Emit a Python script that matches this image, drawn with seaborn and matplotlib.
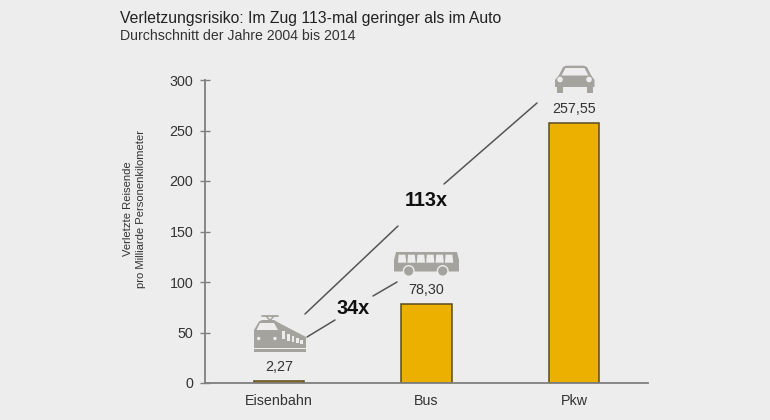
import matplotlib
matplotlib.use("Agg")
import matplotlib.pyplot as plt
import pandas as pd
import seaborn as sns
from matplotlib.patches import Circle, Polygon, Rectangle

categories = ["Eisenbahn", "Bus", "Pkw"]
values = [2.27, 78.30, 257.55]
value_labels = ["2,27", "78,30", "257,55"]
y_ticks = [0, 50, 100, 150, 200, 250, 300]

BG = "#ededed"
BAR = "#ecb100"
ICON = "#a5a39d"
TEXT = "#333333"
AXIS = "#7f7f7f"

W, H = 770, 420


def draw_car(ov):
    ov.add_patch(Polygon([(555, 87), (555, 80), (559, 75), (563, 67), (566, 65.7), (584, 65.7), (587, 67),
                          (591, 75), (594.5, 80), (594.5, 87)], color=ICON, lw=0))
    ov.add_patch(Polygon([(561.5, 75.5), (565.5, 68), (584.5, 68), (588.5, 75.5)], color=BG, lw=0))
    ov.add_patch(Rectangle((557, 87), 6, 5.7, color=ICON, lw=0))
    ov.add_patch(Rectangle((586.5, 87), 6, 5.7, color=ICON, lw=0))
    ov.add_patch(Circle((560, 79.5), 2.8, color=BG, lw=0))
    ov.add_patch(Circle((589, 79.5), 2.8, color=BG, lw=0))


def draw_bus(ov):
    ov.add_patch(Polygon([(396, 252), (457, 252), (459, 260), (459, 271.5), (394, 271.5), (394, 260)],
                         color=ICON, lw=0))
    for x0 in [398, 407.4, 416.8, 426.2, 435.6, 445]:
        ov.add_patch(Polygon([(x0 + 0.6, 254.7), (x0 + 7.4, 254.7), (x0 + 8.2, 262.7), (x0, 262.7)],
                             color=BG, lw=0))
    for cx in [408.7, 442.7]:
        ov.add_patch(Circle((cx, 271), 6, color=BG, lw=0))
        ov.add_patch(Circle((cx, 271), 4.6, color=ICON, lw=0))


def draw_train(ov):
    ov.add_patch(Polygon([(254, 348), (254, 330), (259, 321.5), (262, 320), (274, 320), (281, 324),
                          (306, 337), (306, 348)], color=ICON, lw=0))
    ov.add_patch(Polygon([(256.5, 330), (260, 323), (274, 323), (278, 330)], color=BG, lw=0))
    for x0, y0, h in [(282, 331, 8), (287, 334, 6.5), (291.5, 336, 6), (296, 338, 5), (300, 339.5, 4.5)]:
        ov.add_patch(Rectangle((x0, y0), 2.8, h, color=BG, lw=0))
    ov.add_patch(Rectangle((254, 349.3), 52, 2.7, color=ICON, lw=0))
    ov.plot([262, 278], [316, 316], color=ICON, lw=1.3)
    ov.plot([266, 270, 274], [316, 320.5, 316], color=ICON, lw=1.1)
    ov.add_patch(Circle((258.7, 338.5), 1.7, color=BG, lw=0))
    ov.add_patch(Circle((275, 338.5), 1.7, color=BG, lw=0))


sns.set_theme(style="white")
plt.rcParams["font.family"] = ["Liberation Sans", "DejaVu Sans"]

df = pd.DataFrame({"category": categories, "value": values})

fig = plt.figure(figsize=(W / 100, H / 100), dpi=100, facecolor=BG)
ax = fig.add_axes([205.25 / W, 1 - 383 / H, (647.75 - 205.25) / W, (383 - 80) / H], facecolor=BG)

sns.barplot(data=df, x="category", y="value", color=BAR, saturation=1, width=0.339,
            edgecolor="#5a4a20", linewidth=1.1, ax=ax)
ax.set_xlim(-0.5, 2.5)
ax.set_ylim(0, 300)
ax.set_yticks(y_ticks)
ax.set_xlabel("")
ax.set_ylabel("Verletzte Reisende\npro Milliarde Personenkilometer", fontsize=8.1, color=TEXT, linespacing=1.35)
ax.yaxis.set_label_coords(-0.134, 0.574)
ax.tick_params(axis="y", left=True, direction="inout", length=7.2, width=1, color=AXIS, labelsize=10.3,
               labelcolor=TEXT, pad=5)
ax.tick_params(axis="x", bottom=False, length=0, labelsize=10.3, labelcolor=TEXT, pad=8)
sns.despine(ax=ax, top=True, right=True)
for side in ["left", "bottom"]:
    ax.spines[side].set_color(AXIS)
    ax.spines[side].set_linewidth(1.3)
for i, lab in enumerate(value_labels):
    ax.annotate(lab, (i, values[i]), xytext=(0, 5), textcoords="offset points", ha="center",
                va="bottom", fontsize=10.3, color=TEXT)

# overlay in pixel coords for the icons and the comparison lines
ov = fig.add_axes([0, 0, 1, 1], facecolor="none")
ov.set_xlim(0, W)
ov.set_ylim(H, 0)
ov.axis("off")
draw_car(ov)
draw_bus(ov)
draw_train(ov)

line_c = "#555555"
ov.plot([305, 398], [314, 226], color=line_c, lw=1.1)
ov.plot([444, 537], [184, 103], color=line_c, lw=1.1)
ov.plot([307, 335], [337, 320], color=line_c, lw=1.1)
ov.plot([373, 397], [296, 282], color=line_c, lw=1.1)
ov.text(426, 201, "113x", fontsize=14.3, fontweight="bold", color="#111111", ha="center", va="center")
ov.text(353, 309, "34x", fontsize=14.3, fontweight="bold", color="#111111", ha="center", va="center")

fig.text(120 / W, 1 - 19 / H, "Verletzungsrisiko: Im Zug 113-mal geringer als im Auto", fontsize=11.3,
         color="#222222", va="center")
fig.text(120 / W, 1 - 35.5 / H, "Durchschnitt der Jahre 2004 bis 2014", fontsize=10.2, color=TEXT, va="center")

fig.savefig("out.png", dpi=100, facecolor=BG)
